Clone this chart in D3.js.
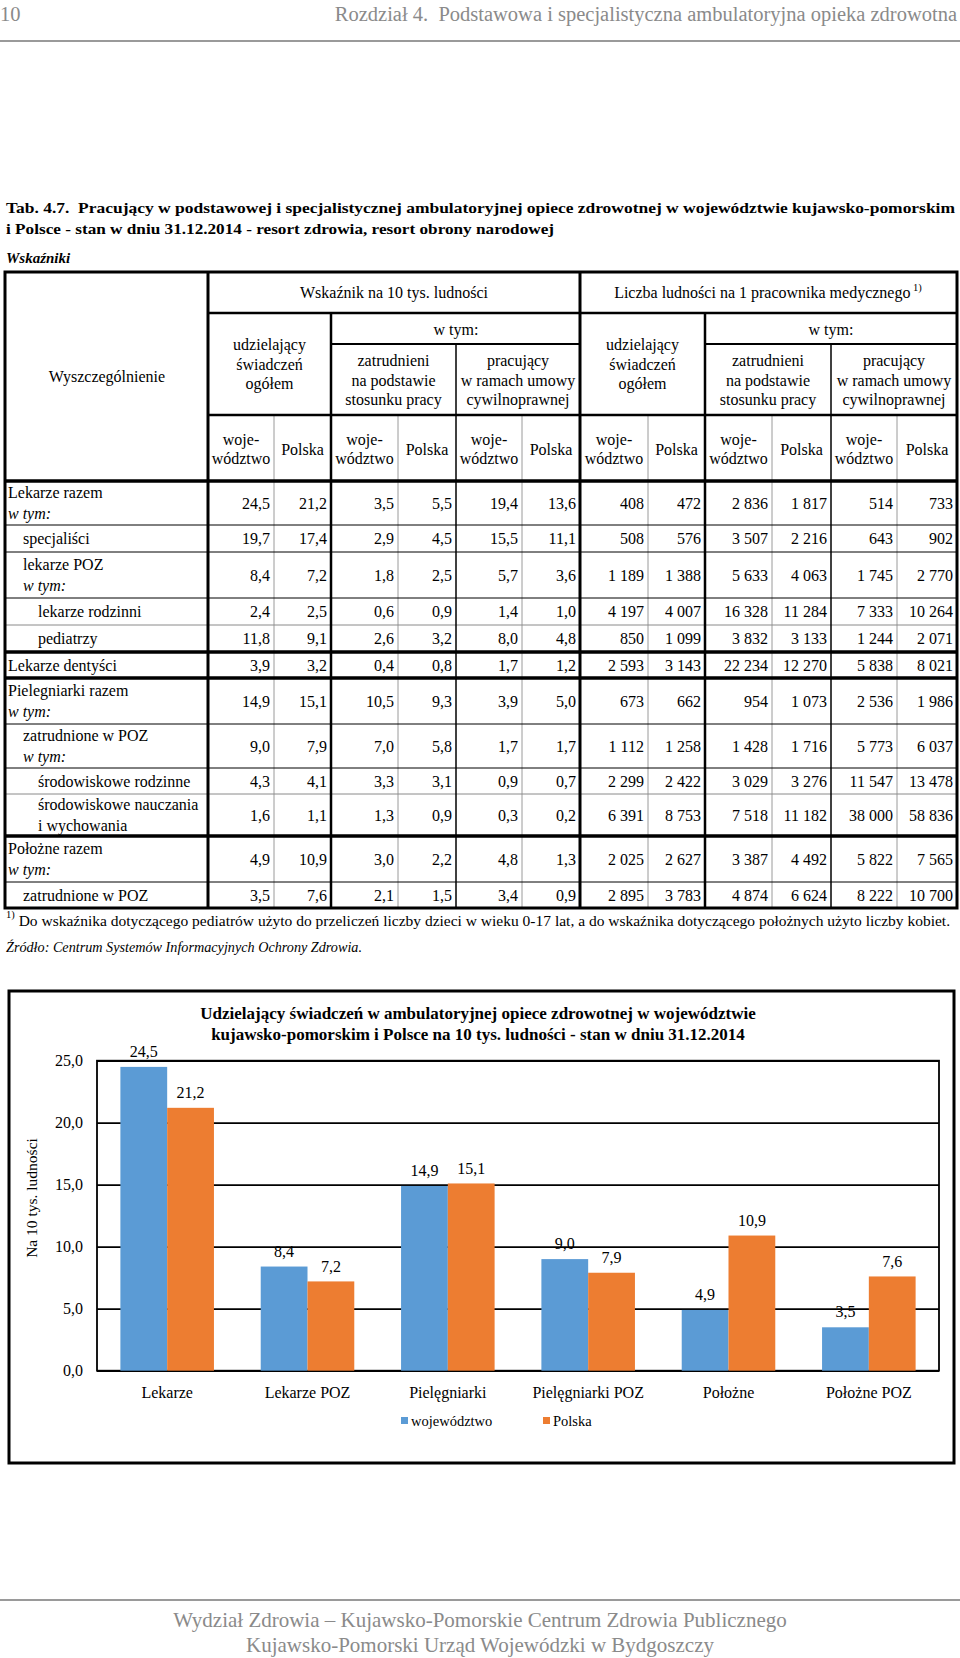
<!DOCTYPE html>
<html><head><meta charset="utf-8">
<script src="https://cdn.jsdelivr.net/npm/d3@7"></script>
<style>body{margin:0;background:#fff}svg{display:block}</style>
</head><body>
<script>
// ---------- DATA ----------
const rowLabels = [
  ["Lekarze razem","w tym:"],
  ["specjaliści"],
  ["lekarze POZ","w tym:"],
  ["lekarze rodzinni"],
  ["pediatrzy"],
  ["Lekarze dentyści"],
  ["Pielegniarki razem","w tym:"],
  ["zatrudnione w POZ","w tym:"],
  ["środowiskowe rodzinne"],
  ["środowiskowe nauczania","i wychowania"],
  ["Położne razem","w tym:"],
  ["zatrudnione w POZ"]
];
const rowIndent = [0,1,1,2,2,0,0,1,2,2,0,1];
// Wskaźnik na 10 tys. ludności: udzielający (woj, PL), stosunek pracy (woj, PL), umowa cywilnoprawna (woj, PL)
const rateValues = [
  [24.5,21.2,3.5,5.5,19.4,13.6],
  [19.7,17.4,2.9,4.5,15.5,11.1],
  [8.4,7.2,1.8,2.5,5.7,3.6],
  [2.4,2.5,0.6,0.9,1.4,1.0],
  [11.8,9.1,2.6,3.2,8.0,4.8],
  [3.9,3.2,0.4,0.8,1.7,1.2],
  [14.9,15.1,10.5,9.3,3.9,5.0],
  [9.0,7.9,7.0,5.8,1.7,1.7],
  [4.3,4.1,3.3,3.1,0.9,0.7],
  [1.6,1.1,1.3,0.9,0.3,0.2],
  [4.9,10.9,3.0,2.2,4.8,1.3],
  [3.5,7.6,2.1,1.5,3.4,0.9]
];
// Liczba ludności na 1 pracownika medycznego
const popValues = [
  [408,472,2836,1817,514,733],
  [508,576,3507,2216,643,902],
  [1189,1388,5633,4063,1745,2770],
  [4197,4007,16328,11284,7333,10264],
  [850,1099,3832,3133,1244,2071],
  [2593,3143,22234,12270,5838,8021],
  [673,662,954,1073,2536,1986],
  [1112,1258,1428,1716,5773,6037],
  [2299,2422,3029,3276,11547,13478],
  [6391,8753,7518,11182,38000,58836],
  [2025,2627,3387,4492,5822,7565],
  [2895,3783,4874,6624,8222,10700]
];
const chartCategories = ["Lekarze","Lekarze POZ","Pielęgniarki","Pielęgniarki POZ","Położne","Położne POZ"];
const seriesNames = ["województwo","Polska"];
const wojValues = [24.5,8.4,14.9,9.0,4.9,3.5];
const plValues = [21.2,7.2,15.1,7.9,10.9,7.6];
const yTicks = [0,5,10,15,20,25];

// ---------- LAYOUT ----------
const W=960,H=1658;
const FONT='"Liberation Serif","Times New Roman",serif';
const TS=16; // table font size
const svg=d3.select("body").append("svg").attr("width",W).attr("height",H);
const loc=d3.formatLocale({decimal:",",thousands:"\u00a0",grouping:[3],currency:["",""]});
const fDec=loc.format(".1f"), fInt=loc.format(",d");

function txt(x,y,s,o={}){
  const t=svg.append("text").attr("x",x).attr("y",y).attr("dy","0.35em")
    .attr("font-family",FONT).attr("font-size",o.size||TS)
    .attr("fill",o.fill||"#000").attr("text-anchor",o.anchor||"start").text(s);
  if(o.weight) t.attr("font-weight",o.weight);
  if(o.style) t.attr("font-style",o.style);
  return t;
}
function line(x1,y1,x2,y2,w,c){
  svg.append("line").attr("x1",x1).attr("y1",y1).attr("x2",x2).attr("y2",y2)
    .attr("stroke",c||"#000").attr("stroke-width",w);
}

// page header
txt(0,14,"10",{size:20.5,fill:"#8a8a8a"});
txt(957,14,"Rozdział 4.  Podstawowa i specjalistyczna ambulatoryjna opieka zdrowotna",{size:20.5,fill:"#8a8a8a",anchor:"end"}).attr("xml:space","preserve");
line(0,41,960,41,2,"#9a9a9a");

// table title
txt(6,208,"Tab. 4.7.  Pracujący w podstawowej i specjalistycznej ambulatoryjnej opiece zdrowotnej w województwie kujawsko-pomorskim",{size:15.5,weight:"bold"}).attr("xml:space","preserve").attr("textLength",949).attr("lengthAdjust","spacingAndGlyphs");
txt(6,229,"i Polsce - stan w dniu 31.12.2014 - resort zdrowia, resort obrony narodowej",{size:15.5,weight:"bold"}).attr("textLength",548).attr("lengthAdjust","spacingAndGlyphs");
txt(6,258,"Wskaźniki",{size:15,weight:"bold",style:"italic"});

// table geometry
const tL=5,tR=957,tTop=272,h1=313,hW=344,h2=415,h3=481;
const colEdges=[208,274,331,398,456,522,580,648,705,772,831,897,957];
const rowH=[44,27,46,27,27,26,46,44,26,42,46,26];
const rowTop=[h3]; rowH.forEach((h,i)=>rowTop.push(rowTop[i]+h));
const tBot=rowTop[rowTop.length-1];

// header texts
txt(107,376,"Wyszczególnienie",{anchor:"middle"});
txt(394,292,"Wskaźnik na 10 tys. ludności",{anchor:"middle"});
const lh=txt(768,292,"Liczba ludności na 1 pracownika medycznego",{anchor:"middle"});
lh.append("tspan").attr("font-size",10.5).attr("dy","-0.6em").text(" 1)");
txt(456,329,"w tym:",{anchor:"middle"});
txt(831,329,"w tym:",{anchor:"middle"});
function multi(cx,cy,lines,gap){
  lines.forEach((s,i)=>txt(cx,cy+(i-(lines.length-1)/2)*gap,s,{anchor:"middle"}));
}
const grpTitles=[["udzielający","świadczeń","ogółem"],["zatrudnieni","na podstawie","stosunku pracy"],["pracujący","w ramach umowy","cywilnoprawnej"]];
[0,1].forEach(k=>{
  multi((colEdges[6*k]+colEdges[6*k+2])/2,364,grpTitles[0],19.5);
  multi((colEdges[6*k+2]+colEdges[6*k+4])/2,380,grpTitles[1],19.5);
  multi((colEdges[6*k+4]+colEdges[6*k+6])/2,380,grpTitles[2],19.5);
});
for(let c=0;c<12;c++){
  const cx=(colEdges[c]+colEdges[c+1])/2;
  if(c%2===0) multi(cx,449,["woje-","wództwo"],18.5);
  else txt(cx,449,"Polska",{anchor:"middle"});
}

// body
rowLabels.forEach((lab,i)=>{
  const mid=(rowTop[i]+rowTop[i+1])/2;
  const x=tL+3+rowIndent[i]*15;
  if(lab.length===1) txt(x,mid,lab[0]);
  else lab.forEach((s,j)=>{
    const isW=(s==="w tym:");
    txt(x, mid+(j-0.5)*20.5, s,{style:isW?"italic":null});
  });
  const vals=rateValues[i].map(fDec).concat(popValues[i].map(fInt));
  vals.forEach((v,c)=>txt(colEdges[c+1]-4,mid,v,{anchor:"end"}));
});

// grid lines of table
[1,3,5,7,9,11].forEach(k=>line(colEdges[k],h2,colEdges[k],tBot,1,"#9a9a9a"));
rowTop.slice(1,-1).forEach((y,i)=>{
  const idx=i+1;
  let w=1,c="#000";
  if([5,6,10].includes(idx)){w=3.5;}
  else if([4,9].includes(idx)){w=1;c="#8a8a8a";}
  line(tL,y,tR,y,w,c);
});
line(208,h1,tR,h1,2.5);
line(331,hW,580,hW,2);
line(705,hW,tR,hW,2);
line(208,h2,tR,h2,2.5);
line(tL,h3,tR,h3,3.5);
line(331,h1,331,tBot,2.5);
line(456,hW,456,tBot,1.5);
line(705,h1,705,tBot,2.5);
line(831,hW,831,tBot,1.5);
line(208,tTop,208,tBot,3);
line(580,tTop,580,tBot,3);
svg.append("rect").attr("x",tL).attr("y",tTop).attr("width",tR-tL).attr("height",tBot-tTop)
  .attr("fill","none").attr("stroke","#000").attr("stroke-width",3);

// footnotes
const fn=txt(6,923,"",{size:15.5});
fn.append("tspan").attr("font-size",10.5).attr("dy","-0.5em").text("1)");
fn.append("tspan").attr("dy","0.5em").text(" Do wskaźnika dotyczącego pediatrów użyto do przeliczeń liczby dzieci w wieku 0-17 lat, a do wskaźnika dotyczącego położnych użyto liczby kobiet.");
txt(6,947,"Źródło: Centrum Systemów Informacyjnych Ochrony Zdrowia.",{size:14.2,style:"italic"});

// ---------- CHART ----------
svg.append("rect").attr("x",9).attr("y",991).attr("width",945).attr("height",472)
  .attr("fill","#fff").attr("stroke","#000").attr("stroke-width",3);
txt(478,1013,"Udzielający świadczeń w ambulatoryjnej opiece zdrowotnej w województwie",{size:17,weight:"bold",anchor:"middle"});
txt(478,1034,"kujawsko-pomorskim i Polsce na 10 tys. ludności - stan w dniu 31.12.2014",{size:17,weight:"bold",anchor:"middle"});

const pL=97,pR=939,pT=1060.7,pB=1370.7;
const y=d3.scaleLinear().domain([0,25]).range([pB,pT]);
const x0=d3.scaleBand().domain(chartCategories).range([pL,pR]).paddingInner(1/3).paddingOuter(1/6);
const x1=d3.scaleBand().domain(seriesNames).range([0,x0.bandwidth()]);
const colors={"województwo":"#5B9BD5","Polska":"#ED7D31"};

const grid=svg.append("g").attr("transform",`translate(${pL},0)`)
  .call(d3.axisLeft(y).tickValues(yTicks).tickSize(-(pR-pL)).tickFormat(""));
grid.select(".domain").remove();
grid.selectAll("line").attr("stroke","#000").attr("stroke-width",1.8);
const ya=svg.append("g").attr("transform",`translate(${pL-14},0)`)
  .call(d3.axisLeft(y).tickValues(yTicks).tickSize(0).tickFormat(fDec));
ya.select(".domain").remove();
ya.selectAll("text").attr("font-family",FONT).attr("font-size",16).attr("fill","#000").attr("x",0);
svg.append("rect").attr("x",pL).attr("y",pT).attr("width",pR-pL).attr("height",pB-pT)
  .attr("fill","none").attr("stroke","#000").attr("stroke-width",1.8);

const series=[wojValues,plValues];
const gBars=svg.append("g");
chartCategories.forEach((cat,i)=>{
  seriesNames.forEach((s,k)=>{
    const v=series[k][i];
    gBars.append("rect").attr("x",x0(cat)+x1(s)).attr("y",y(v))
      .attr("width",x1.bandwidth()).attr("height",y(0)-y(v)).attr("fill",colors[s]);
  });
});
chartCategories.forEach((cat,i)=>{
  seriesNames.forEach((s,k)=>{
    const v=series[k][i];
    txt(x0(cat)+x1(s)+x1.bandwidth()/2,y(v)-15.5,fDec(v),{size:16,anchor:"middle"});
  });
});
const xa=svg.append("g").attr("transform",`translate(0,${pB+13})`)
  .call(d3.axisBottom(x0).tickSize(0));
xa.select(".domain").remove();
xa.selectAll("text").attr("font-family",FONT).attr("font-size",16).attr("fill","#000").attr("dy","0.71em");

svg.append("text").attr("transform","translate(32,1198) rotate(-90)").attr("text-anchor","middle")
  .attr("dy","0.35em").attr("font-family",FONT).attr("font-size",15.5).text("Na 10 tys. ludności");

const legX=[401,543];
seriesNames.forEach((s,k)=>{
  svg.append("rect").attr("x",legX[k]).attr("y",1417).attr("width",7).attr("height",7).attr("fill",colors[s]);
  txt(legX[k]+10,1421,s,{size:14.5});
});

// page footer
line(0,1600,960,1600,2,"#9a9a9a");
txt(480,1620,"Wydział Zdrowia – Kujawsko-Pomorskie Centrum Zdrowia Publicznego",{size:21,fill:"#8a8a8a",anchor:"middle"});
txt(480,1645,"Kujawsko-Pomorski Urząd Wojewódzki w Bydgoszczy",{size:21,fill:"#8a8a8a",anchor:"middle"});
</script>
</body></html>
